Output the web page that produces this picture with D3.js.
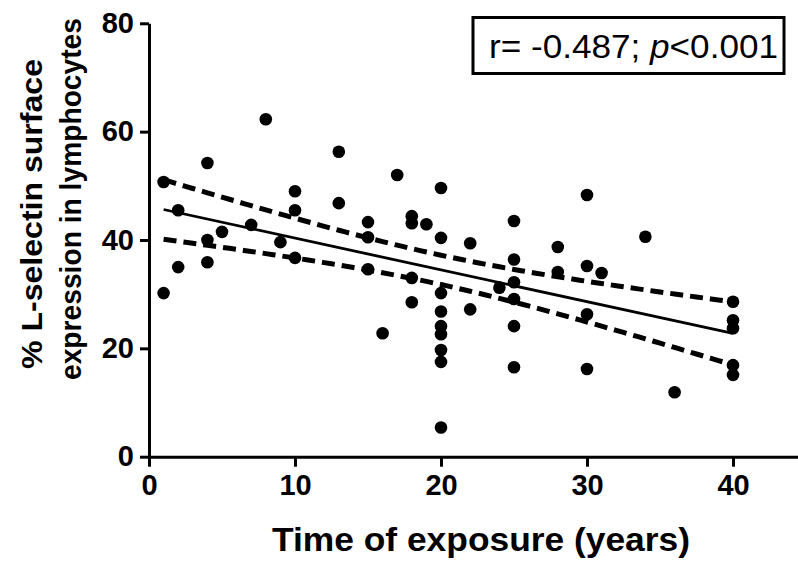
<!DOCTYPE html>
<html>
<head>
<meta charset="utf-8">
<script src="https://cdnjs.cloudflare.com/ajax/libs/d3/7.8.5/d3.min.js"></script>
<style>
  body { margin: 0; background: #fff; }
  svg { display: block; font-family: "Liberation Sans", Arial, sans-serif; }
</style>
</head>
<body>
<script>
// years of exposure for each subject
var years = [1, 1, 2, 2, 4, 4, 4, 5, 7, 8, 9, 10, 10, 10, 13, 13, 15, 15, 15, 16, 17,
  18, 18, 18, 18, 19, 20, 20, 20, 20, 20, 20, 20, 20, 20, 22, 22, 24,
  25, 25, 25, 25, 25, 25, 28, 28, 30, 30, 30, 30, 31, 34, 36, 40, 40, 40, 40, 40];
// % L-selectin surface expression
var selectin = [50.7, 30.2, 45.5, 35.0, 54.2, 40.0, 35.9, 41.5, 42.8, 62.3, 39.6, 49.0, 45.5, 36.7,
  56.3, 46.8, 43.3, 40.5, 34.6, 22.8, 52.0, 44.4, 43.1, 33.0, 28.5, 42.9,
  49.6, 40.4, 30.2, 26.8, 24.1, 22.6, 19.7, 17.5, 5.4, 39.4, 27.2, 31.2,
  43.5, 36.4, 32.2, 29.1, 24.1, 16.5, 38.7, 34.1, 48.3, 35.2, 26.3, 16.2, 33.9, 40.6, 11.9,
  28.6, 25.2, 23.7, 16.9, 15.1];
var xTicks = [0, 10, 20, 30, 40];
var yTicks = [0, 20, 40, 60, 80];
var statText = ["r= -0.487; ", "p", "<0.001"];

function main() {
  var width = 798, height = 565;

  var svg = d3.select("body").append("svg")
    .attr("width", width)
    .attr("height", height);

  var xScale = d3.scaleLinear().domain([0, 44.5]).range([149, 798.7]);
  var yScale = d3.scaleLinear().domain([0, 80]).range([456.7, 23.3]);

  var data = years.map(function(d, i) { return {x: d, y: selectin[i]}; });

  // linear regression + 95% confidence band of the mean
  var n = data.length;
  var mx = d3.mean(data, function(d) { return d.x; });
  var my = d3.mean(data, function(d) { return d.y; });
  var sxx = d3.sum(data, function(d) { return (d.x - mx) * (d.x - mx); });
  var sxy = d3.sum(data, function(d) { return (d.x - mx) * (d.y - my); });
  var slope = sxy / sxx, icpt = my - slope * mx;
  var sse = d3.sum(data, function(d) { var e = d.y - (icpt + slope * d.x); return e * e; });
  var s = Math.sqrt(sse / (n - 2));
  var tval = 2.003;
  var xs = d3.range(d3.min(years), d3.max(years) + 0.01, 0.5);
  function band(sign) {
    return xs.map(function(x) {
      var h = tval * s * Math.sqrt(1 / n + (x - mx) * (x - mx) / sxx);
      return [x, icpt + slope * x + sign * h];
    });
  }
  var line = d3.line()
    .x(function(d) { return xScale(d[0]); })
    .y(function(d) { return yScale(d[1]); });

  var fitPts = d3.extent(years).map(function(x) { return [x, icpt + slope * x]; });

  // dots
  svg.append("g").selectAll("circle")
    .data(data)
    .enter().append("circle")
    .attr("cx", function(d) { return xScale(d.x); })
    .attr("cy", function(d) { return yScale(d.y); })
    .attr("r", 6.3)
    .attr("fill", "#000");

  svg.append("path")
    .datum(fitPts)
    .attr("d", line)
    .attr("fill", "none")
    .attr("stroke", "#000")
    .attr("stroke-width", 2.8);

  [1, -1].forEach(function(sg) {
    svg.append("path")
      .datum(band(sg))
      .attr("d", line)
      .attr("fill", "none")
      .attr("stroke", "#000")
      .attr("stroke-width", 5)
      .attr("stroke-dasharray", "13,7");
  });

  // axes
  var xAxis = svg.append("g")
    .attr("transform", "translate(0," + yScale(0) + ")")
    .call(d3.axisBottom(xScale).tickValues(xTicks).tickSize(10).tickPadding(8).tickSizeOuter(0));
  var yAxis = svg.append("g")
    .attr("transform", "translate(" + xScale(0) + ",0)")
    .call(d3.axisLeft(yScale).tickValues(yTicks).tickSize(9).tickPadding(6).tickSizeOuter(0));

  [xAxis, yAxis].forEach(function(ax) {
    ax.select(".domain").attr("stroke-width", 3).attr("stroke", "#000");
    ax.selectAll(".tick line").attr("stroke-width", 3).attr("stroke", "#000");
    ax.selectAll(".tick text")
      .attr("fill", "#000")
      .style("font-family", "'Liberation Sans', Arial, sans-serif")
      .style("font-weight", "bold")
      .style("font-size", "29px");
  });

  // axis titles
  svg.append("text")
    .attr("x", 481)
    .attr("y", 551)
    .attr("text-anchor", "middle")
    .style("font-weight", "bold")
    .style("font-size", "34px")
    .attr("textLength", 418)
    .attr("lengthAdjust", "spacingAndGlyphs")
    .text("Time of exposure (years)");

  var ytitle = svg.append("g")
    .attr("transform", "rotate(-90)")
    .style("font-weight", "bold")
    .style("font-size", "29px");
  ytitle.append("text").attr("x", -214).attr("y", 42)
    .attr("text-anchor", "middle")
    .attr("textLength", 310).attr("lengthAdjust", "spacingAndGlyphs")
    .text("% L-selectin surface");
  ytitle.append("text").attr("x", -199).attr("y", 81)
    .attr("text-anchor", "middle")
    .attr("textLength", 362).attr("lengthAdjust", "spacingAndGlyphs")
    .text("expression in lymphocytes");

  // stat box
  svg.append("rect")
    .attr("x", 473).attr("y", 17.5)
    .attr("width", 311).attr("height", 56)
    .attr("fill", "#fff")
    .attr("stroke", "#000")
    .attr("stroke-width", 3);
  var st = svg.append("text")
    .attr("x", 489).attr("y", 58)
    .style("font-size", "34px")
    .attr("textLength", 289)
    .attr("lengthAdjust", "spacingAndGlyphs");
  st.append("tspan").text(statText[0]);
  st.append("tspan").style("font-style", "italic").text(statText[1]);
  st.append("tspan").text(statText[2]);
}
main();
</script>
</body>
</html>
